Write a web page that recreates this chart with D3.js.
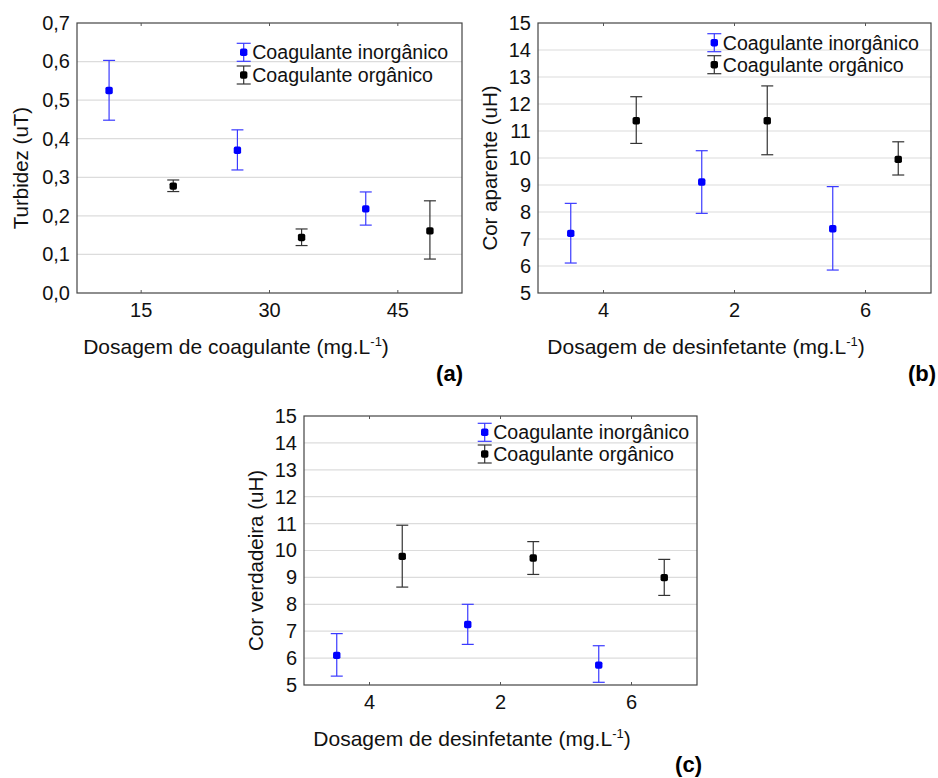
<!DOCTYPE html>
<html><head><meta charset="utf-8">
<script src="https://cdn.jsdelivr.net/npm/d3@7"></script>
<style>body{margin:0;background:#fff}svg{display:block}text{font-family:"Liberation Sans",Arial,sans-serif}</style>
</head><body>
<script>
// ---- data ----
const seriesNames = ["Coagulante inorgânico", "Coagulante orgânico"];
const catsA = ["15", "30", "45"];
const inorgA = [0.525, 0.370, 0.218];
const inorgALo = [0.448, 0.319, 0.176];
const inorgAHi = [0.603, 0.423, 0.262];
const orgA = [0.277, 0.144, 0.161];
const orgALo = [0.263, 0.123, 0.088];
const orgAHi = [0.293, 0.166, 0.239];
const yTicksA = [0, 0.1, 0.2, 0.3, 0.4, 0.5, 0.6, 0.7];

const catsB = ["4", "2", "6"];
const inorgB = [7.21, 9.11, 7.38];
const inorgBLo = [6.11, 7.95, 5.85];
const inorgBHi = [8.32, 10.27, 8.94];
const orgB = [11.38, 11.38, 9.95];
const orgBLo = [10.54, 10.12, 9.37];
const orgBHi = [12.27, 12.67, 10.60];

const catsC = ["4", "2", "6"];
const inorgC = [6.10, 7.25, 5.74];
const inorgCLo = [5.33, 6.51, 5.10];
const inorgCHi = [6.91, 8.00, 6.46];
const orgC = [9.78, 9.72, 8.99];
const orgCLo = [8.64, 9.11, 8.33];
const orgCHi = [10.94, 10.33, 9.67];
const yTicksBC = [5, 6, 7, 8, 9, 10, 11, 12, 13, 14, 15];

const blue = "#0000ff", blueBar = "#3a3aff", black = "#000", blackBar = "#333";

const svg = d3.select("body").append("svg").attr("width", 938).attr("height", 778);

function panel(o) {
  const g = svg.append("g");
  const x = d3.scaleBand().domain(o.cats).range([o.l, o.r]).paddingInner(0).paddingOuter(0);
  const y = d3.scaleLinear().domain(o.yDomain).range([o.b, o.t]);
  // gridlines
  g.selectAll("line.grid").data(o.yTicks.slice(1, -1)).join("line")
    .attr("x1", o.l).attr("x2", o.r).attr("y1", d => y(d)).attr("y2", d => y(d))
    .attr("stroke", "#dcdcdc").attr("stroke-width", 1.2);
  // frame
  g.append("rect").attr("x", o.l).attr("y", o.t).attr("width", o.r - o.l).attr("height", o.b - o.t)
    .attr("fill", "none").attr("stroke", "#444").attr("stroke-width", 1.2);
  // x axis
  const ax = g.append("g").attr("transform", `translate(0,${o.b})`)
    .call(d3.axisBottom(x).tickSizeInner(-3).tickSizeOuter(0).tickPadding(9));
  ax.select(".domain").remove();
  ax.selectAll(".tick line").attr("stroke", "#555");
  ax.selectAll("text").attr("font-size", 20).attr("fill", "#111").attr("font-family", "Liberation Sans, Arial, sans-serif").attr("dy", "0.75em");
  const axT = g.append("g").attr("transform", `translate(0,${o.t})`)
    .call(d3.axisTop(x).tickSizeInner(-3).tickSizeOuter(0).tickFormat(""));
  axT.select(".domain").remove();
  axT.selectAll(".tick line").attr("stroke", "#555");
  // y axis
  const ay = g.append("g").attr("transform", `translate(${o.l},0)`)
    .call(d3.axisLeft(y).tickValues(o.yTicks).tickSize(0).tickPadding(7).tickFormat(o.fmt));
  ay.select(".domain").remove();
  ay.selectAll("text").attr("font-size", 20).attr("fill", "#111").attr("font-family", "Liberation Sans, Arial, sans-serif");
  // axis titles
  const xt = g.append("text").attr("x", o.xtCx).attr("y", o.b + 61).attr("text-anchor", "middle")
    .attr("font-size", 21).attr("fill", "#111");
  xt.append("tspan").text(o.xTitle + " (mg.L");
  xt.append("tspan").text("-1").attr("font-size", 13).attr("dy", -8);
  xt.append("tspan").text(")").attr("font-size", 21).attr("dy", 8);
  g.append("text").attr("transform", `translate(${o.l - o.ytOff},${(o.t + o.b) / 2 + 10}) rotate(-90)`)
    .attr("text-anchor", "middle").attr("font-size", 20.5).attr("fill", "#111").text(o.yTitle);
  // panel label
  g.append("text").attr("x", o.labX).attr("y", o.labY).attr("text-anchor", "end")
    .attr("font-size", 22).attr("font-weight", "bold").attr("fill", "#000").text(o.label);
  // series
  const bw = x.bandwidth();
  const series = [
    { v: o.inorg, lo: o.inorgLo, hi: o.inorgHi, off: -bw / 4, c: blue, bc: blueBar },
    { v: o.org, lo: o.orgLo, hi: o.orgHi, off: bw / 4, c: black, bc: blackBar }
  ];
  series.forEach(s => {
    const data = o.cats.map((c, i) => ({ cx: x(c) + bw / 2 + s.off, v: s.v[i], lo: s.lo[i], hi: s.hi[i] }));
    const sg = g.append("g");
    sg.selectAll("line.v").data(data).join("line").attr("x1", d => d.cx).attr("x2", d => d.cx)
      .attr("y1", d => y(d.lo)).attr("y2", d => y(d.hi)).attr("stroke", s.bc).attr("stroke-width", 1.2);
    ["lo", "hi"].forEach(k => {
      sg.selectAll("line." + k).data(data).join("line").attr("class", k)
        .attr("x1", d => d.cx - 6).attr("x2", d => d.cx + 6)
        .attr("y1", d => y(d[k])).attr("y2", d => y(d[k])).attr("stroke", s.bc).attr("stroke-width", 1.2);
    });
    sg.selectAll("rect").data(data).join("rect").attr("x", d => d.cx - 3.7).attr("y", d => y(d.v) - 3.7)
      .attr("width", 7.4).attr("height", 7.4).attr("rx", 1.8).attr("fill", s.c);
  });
  // legend
  const lg = g.append("g");
  [{ c: blue, bc: blueBar }, { c: black, bc: blackBar }].forEach((s, i) => {
    const cy = o.legY + i * o.legDy, cx = o.legX;
    lg.append("line").attr("x1", cx).attr("x2", cx).attr("y1", cy - 9).attr("y2", cy + 9).attr("stroke", s.bc).attr("stroke-width", 1.2);
    lg.append("line").attr("x1", cx - 7).attr("x2", cx + 7).attr("y1", cy - 9).attr("y2", cy - 9).attr("stroke", s.bc).attr("stroke-width", 1.2);
    lg.append("line").attr("x1", cx - 7).attr("x2", cx + 7).attr("y1", cy + 9).attr("y2", cy + 9).attr("stroke", s.bc).attr("stroke-width", 1.2);
    lg.append("rect").attr("x", cx - 3.7).attr("y", cy - 3.7).attr("width", 7.4).attr("height", 7.4).attr("rx", 1.8).attr("fill", s.c);
    lg.append("text").attr("x", cx + 8.5).attr("y", cy + 7).attr("font-size", 19.6).attr("fill", "#111").text(seriesNames[i]);
  });
}

const fmtA = d => d3.format(".1f")(d).replace(".", ",");
panel({ cats: catsA, l: 77, r: 462, t: 23, b: 293, yDomain: [0, 0.7], yTicks: yTicksA, fmt: fmtA,
  inorg: inorgA, inorgLo: inorgALo, inorgHi: inorgAHi, org: orgA, orgLo: orgALo, orgHi: orgAHi,
  xTitle: "Dosagem de coagulante", yTitle: "Turbidez (uT)", xtCx: 236, ytOff: 49,
  label: "(a)", labX: 463, labY: 381, legX: 243.7, legY: 52.3, legDy: 22.7 });
panel({ cats: catsB, l: 538, r: 931, t: 23, b: 293, yDomain: [5, 15], yTicks: yTicksBC, fmt: d3.format("d"),
  inorg: inorgB, inorgLo: inorgBLo, inorgHi: inorgBHi, org: orgB, orgLo: orgBLo, orgHi: orgBHi,
  xTitle: "Dosagem de desinfetante", yTitle: "Cor aparente (uH)", xtCx: 706, ytOff: 41,
  label: "(b)", labX: 936, labY: 381, legX: 714.3, legY: 42.7, legDy: 22 });
panel({ cats: catsC, l: 304, r: 697, t: 416, b: 685, yDomain: [5, 15], yTicks: yTicksBC, fmt: d3.format("d"),
  inorg: inorgC, inorgLo: inorgCLo, inorgHi: inorgCHi, org: orgC, orgLo: orgCLo, orgHi: orgCHi,
  xTitle: "Dosagem de desinfetante", yTitle: "Cor verdadeira (uH)", xtCx: 472, ytOff: 41,
  label: "(c)", labX: 702, labY: 772, legX: 484.7, legY: 432.3, legDy: 21.7 });
</script>
</body></html>
